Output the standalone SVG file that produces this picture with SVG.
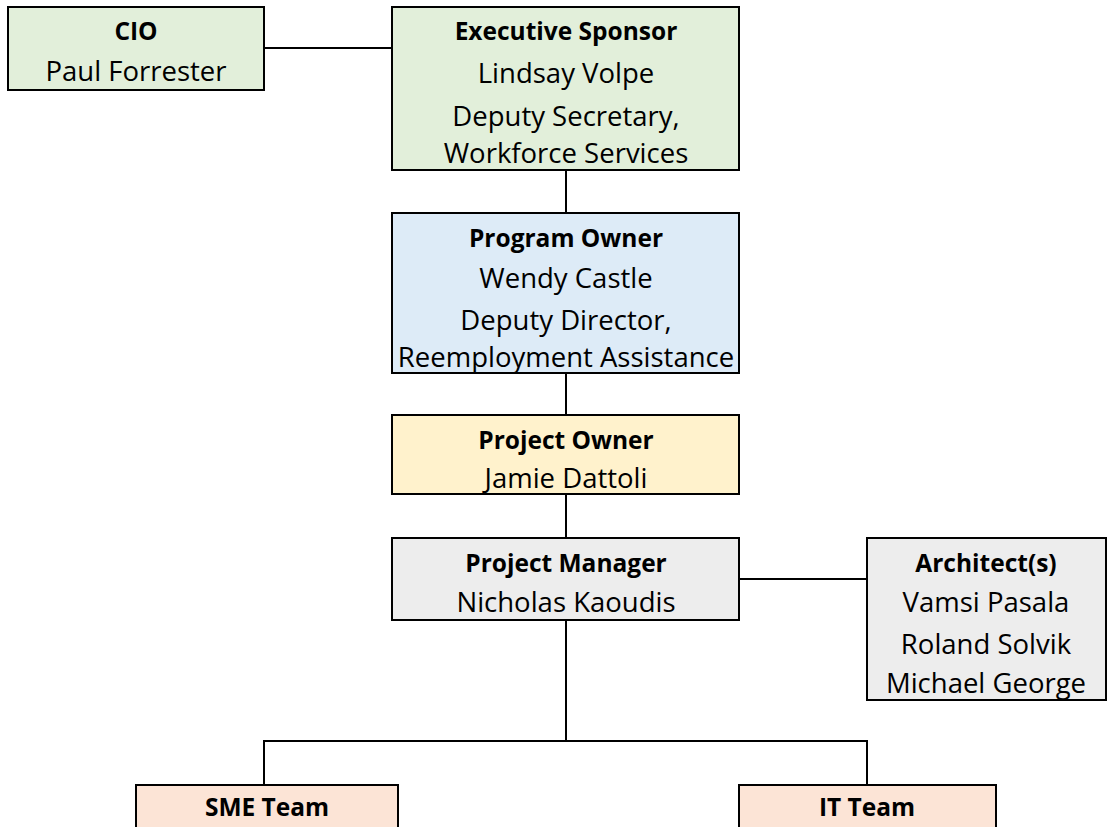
<svg xmlns="http://www.w3.org/2000/svg" width="1112" height="827" viewBox="0 0 1112 827">
<style>
.box{stroke:#000;stroke-width:2}
.g{fill:#E2EFDA}.b{fill:#DDEBF7}.y{fill:#FFF2CC}.gr{fill:#EDEDED}.p{fill:#FCE4D6}
text{font-family:"Open Sans","Liberation Sans",Arial,sans-serif;font-size:27.5px;fill:#000;text-anchor:middle}
.h{font-weight:bold;font-size:24.5px}
.c{stroke:#000;stroke-width:2;fill:none}
</style>
<rect width="1112" height="827" fill="#fff"/>
<g id="connectors">
<line class="c" x1="264" y1="48" x2="392" y2="48"/>
<line class="c" x1="566" y1="170" x2="566" y2="213"/>
<line class="c" x1="566" y1="373" x2="566" y2="415"/>
<line class="c" x1="566" y1="494" x2="566" y2="538"/>
<line class="c" x1="739" y1="579" x2="867" y2="579"/>
<line class="c" x1="566" y1="620" x2="566" y2="741"/>
<polyline class="c" points="264,785 264,741 867,741 867,785"/>
</g>
<g id="cio">
<rect class="box g" x="8" y="7" width="256" height="83"/>
<text class="h" x="136" y="40">CIO</text>
<text x="136" y="81">Paul Forrester</text>
</g>
<g id="exec">
<rect class="box g" x="392" y="7" width="347" height="163"/>
<text class="h" x="566" y="40">Executive Sponsor</text>
<text x="566" y="83">Lindsay Volpe</text>
<text x="566" y="126">Deputy Secretary,</text>
<text x="566" y="163">Workforce Services</text>
</g>
<g id="program">
<rect class="box b" x="392" y="213" width="347" height="160"/>
<text class="h" x="566" y="247">Program Owner</text>
<text x="566" y="288">Wendy Castle</text>
<text x="566" y="330">Deputy Director,</text>
<text x="566" y="367">Reemployment Assistance</text>
</g>
<g id="projowner">
<rect class="box y" x="392" y="415" width="347" height="79"/>
<text class="h" x="566" y="449">Project Owner</text>
<text x="566" y="488">Jamie Dattoli</text>
</g>
<g id="pm">
<rect class="box gr" x="392" y="538" width="347" height="82"/>
<text class="h" x="566" y="572">Project Manager</text>
<text x="566" y="612">Nicholas Kaoudis</text>
</g>
<g id="arch">
<rect class="box gr" x="867" y="538" width="239" height="162"/>
<text class="h" x="986" y="572">Architect(s)</text>
<text x="986" y="612">Vamsi Pasala</text>
<text x="986" y="654">Roland Solvik</text>
<text x="986" y="693">Michael George</text>
</g>
<g id="sme">
<rect class="box p" x="136" y="785" width="262" height="50"/>
<text class="h" x="267" y="816">SME Team</text>
</g>
<g id="it">
<rect class="box p" x="739" y="785" width="257" height="50"/>
<text class="h" x="867" y="816">IT Team</text>
</g>
</svg>
